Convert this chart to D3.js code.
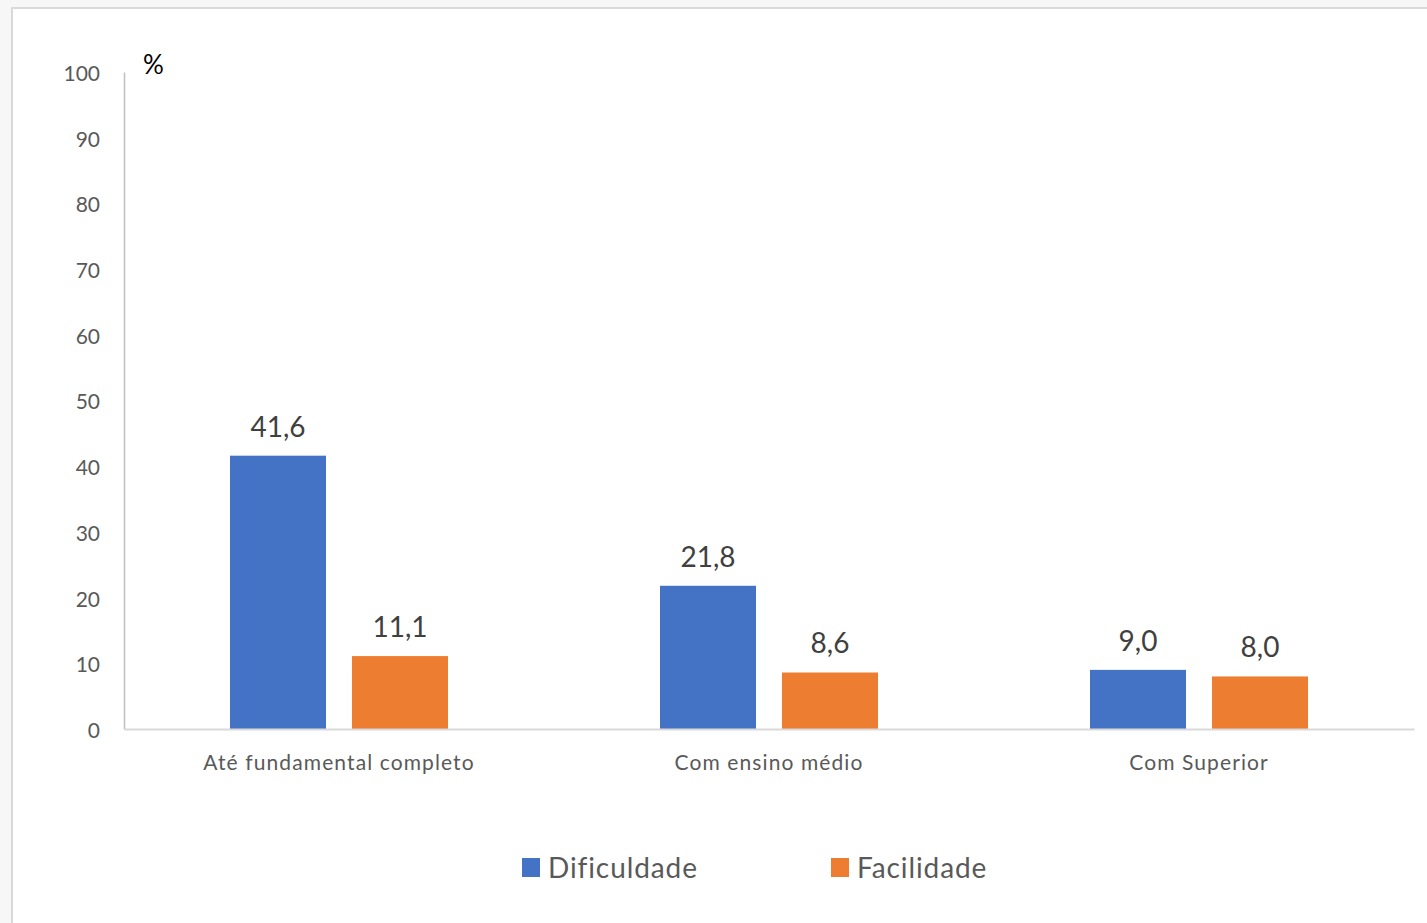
<!DOCTYPE html>
<html><head><meta charset="utf-8">
<script src="https://cdn.jsdelivr.net/npm/d3@7"></script>
<style>
html,body{margin:0;padding:0;background:#f7f7f7;}
svg{display:block;font-family:Lato,"Open Sans",sans-serif;font-variant-ligatures:none;}
</style></head>
<body>
<svg id="c" width="1427" height="923"></svg>
<script>
const categories = ["Até fundamental completo", "Com ensino médio", "Com Superior"];
const seriesNames = ["Dificuldade", "Facilidade"];
const dificuldade = [41.6, 21.8, 9.0];
const facilidade = [11.1, 8.6, 8.0];
const yTicks = [0, 10, 20, 30, 40, 50, 60, 70, 80, 90, 100];
const colors = ["#4472c4", "#ed7d31"];

const svg = d3.select("#c");
// chart frame
svg.append("rect").attr("x", 12).attr("y", 8).attr("width", 1440).attr("height", 940)
  .attr("fill", "#fff").attr("stroke", "#d9d9d9").attr("stroke-width", 2);

const y = d3.scaleLinear().domain([0, 100]).range([729, 72]);
const x0 = d3.scaleBand().domain(categories).range([124, 1414]).padding(0);
const x1 = d3.scaleBand().domain(seriesNames).range([0, x0.bandwidth()])
  .paddingInner(0.213).paddingOuter(0.869);

const data = categories.map((c, i) => ({cat: c, vals: [dificuldade[i], facilidade[i]]}));

// y axis
const yAxis = d3.axisLeft(y).tickValues(yTicks).tickSize(0).tickPadding(24).tickFormat(d3.format("d"));
const gy = svg.append("g").attr("transform", "translate(124,0)").call(yAxis);
gy.select(".domain").attr("stroke", "#bfbfbf").attr("stroke-width", 1.5);
gy.selectAll("text").attr("font-size", 21).attr("fill", "#595959").attr("font-family", "Lato, sans-serif")
  .attr("dy", "0.4em");

// bars
const groups = svg.append("g").selectAll("g").data(data).join("g")
  .attr("transform", d => `translate(${x0(d.cat)},0)`);
groups.selectAll("rect").data(d => d.vals.map((v, j) => ({s: seriesNames[j], v, j}))).join("rect")
  .attr("x", d => x1(d.s)).attr("width", x1.bandwidth())
  .attr("y", d => y(d.v)).attr("height", d => y(0) - y(d.v))
  .attr("fill", d => colors[d.j]);
groups.selectAll("text").data(d => d.vals.map((v, j) => ({s: seriesNames[j], v, j}))).join("text")
  .attr("x", d => x1(d.s) + x1.bandwidth() / 2).attr("y", d => y(d.v) - 19)
  .attr("text-anchor", "middle").attr("font-size", 28).attr("fill", "#404040")
  .text(d => d.v.toFixed(1).replace(".", ","));

// x axis
const xAxis = d3.axisBottom(x0).tickSize(0).tickPadding(26);
const gx = svg.append("g").attr("transform", "translate(0,729)").call(xAxis);
gx.select(".domain").attr("stroke", "#d9d9d9").attr("stroke-width", 2);
gx.selectAll("text").attr("font-size", 21).attr("fill", "#595959").attr("font-family", "Lato, sans-serif")
  .attr("letter-spacing", 1.1);

// % label
svg.append("text").attr("x", 143).attr("y", 74).attr("font-size", 26).attr("fill", "#000").text("%");

// legend
const legendX = [522, 831];
const lg = svg.append("g").selectAll("g").data(seriesNames).join("g")
  .attr("transform", (d, i) => `translate(${legendX[i]},858)`);
lg.append("rect").attr("width", 18).attr("height", 19).attr("fill", (d, i) => colors[i]);
lg.append("text").attr("x", 26).attr("y", 20).attr("font-size", 28).attr("fill", "#595959")
  .attr("letter-spacing", 0.9).text(d => d);
</script>
</body></html>
